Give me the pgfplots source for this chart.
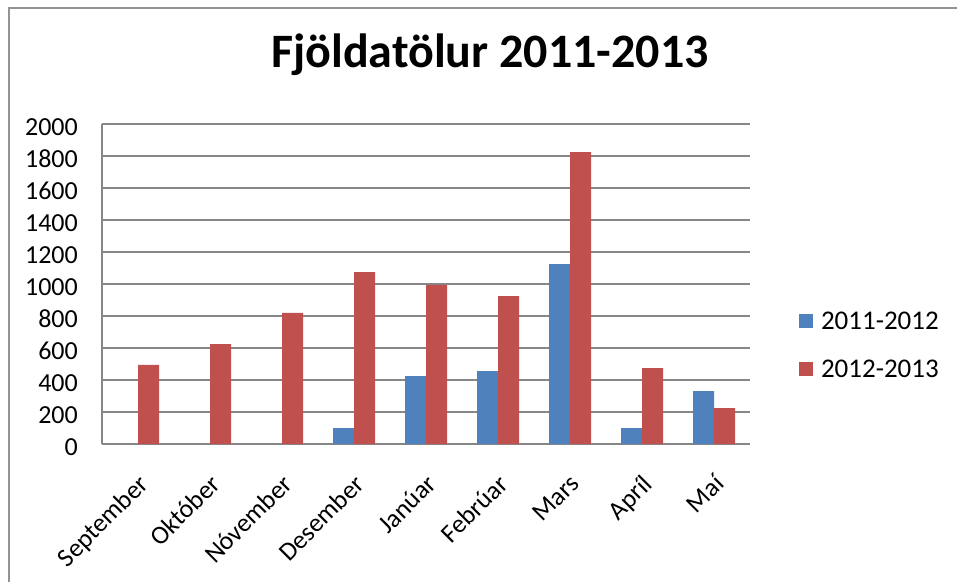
\documentclass[border=0pt]{standalone}
\usepackage{pgfplots}
\pgfplotsset{compat=1.18}
\usepackage{fontspec}
\setmainfont{Carlito}
\definecolor{barblue}{HTML}{4F81BD}
\definecolor{barred}{HTML}{C0504D}
\definecolor{gridgray}{HTML}{878787}
\begin{document}
\begin{tikzpicture}[x=1pt,y=1pt]
\useasboundingbox (0,0) rectangle (957,582);
\draw[gridgray!90, line width=1.5pt] (9,0) -- (9,574) -- (957,574);
\node[font=\fontsize{48}{58}\selectfont\bfseries] at (490,527) {Fjöldatölur 2011-2013};
\begin{axis}[at={(102pt,138pt)}, anchor=south west, width=648pt, height=320pt, scale only axis,
  ybar=0pt, bar width=21pt,
  xmin=-0.5, xmax=8.5, ymin=0, ymax=2000, ytick={0,200,...,2000},
  xtick={0,...,8},
  xticklabels={September,Október,Nóvember,Desember,Janúar,Febrúar,Mars,Apríl,Maí},
  axis x line*=bottom, axis y line*=left,
  ymajorgrids, grid style={gridgray, line width=1.5pt},
  axis line style={gridgray, line width=1.5pt},
  major tick length=0pt,
  ticklabel style={font=\fontsize{26}{31}\selectfont},
  /pgf/number format/assume math mode=true,
  /pgf/number format/set thousands separator={},
  scaled y ticks=false,
  yticklabel style={anchor=east, inner sep=0pt, xshift=-24pt, yshift=-3pt},
  xticklabel style={anchor=north east, inner sep=2pt, yshift=-26pt, xshift=-1pt, rotate=45},
  legend style={at={(1.0707,0.308)}, anchor=west, draw=none, fill=none,
    font=\fontsize{27}{32}\selectfont, row sep=25pt},
  legend cell align=left,
]
\addplot[fill=barblue, draw=none, legend image code/.code={\fill[barblue] (0pt,-7pt) rectangle (14pt,7pt); \path (20pt,0pt);}]
  coordinates {(3,100) (4,425) (5,456) (6,1125) (7,100) (8,331)};
\addplot[fill=barred, draw=none, legend image code/.code={\fill[barred] (0pt,-7pt) rectangle (14pt,7pt); \path (20pt,0pt);}]
  coordinates {(0,495) (1,625) (2,819) (3,1075) (4,994) (5,925) (6,1825) (7,475) (8,225)};
\legend{2011-2012,2012-2013}
\end{axis}
\end{tikzpicture}
\end{document}
